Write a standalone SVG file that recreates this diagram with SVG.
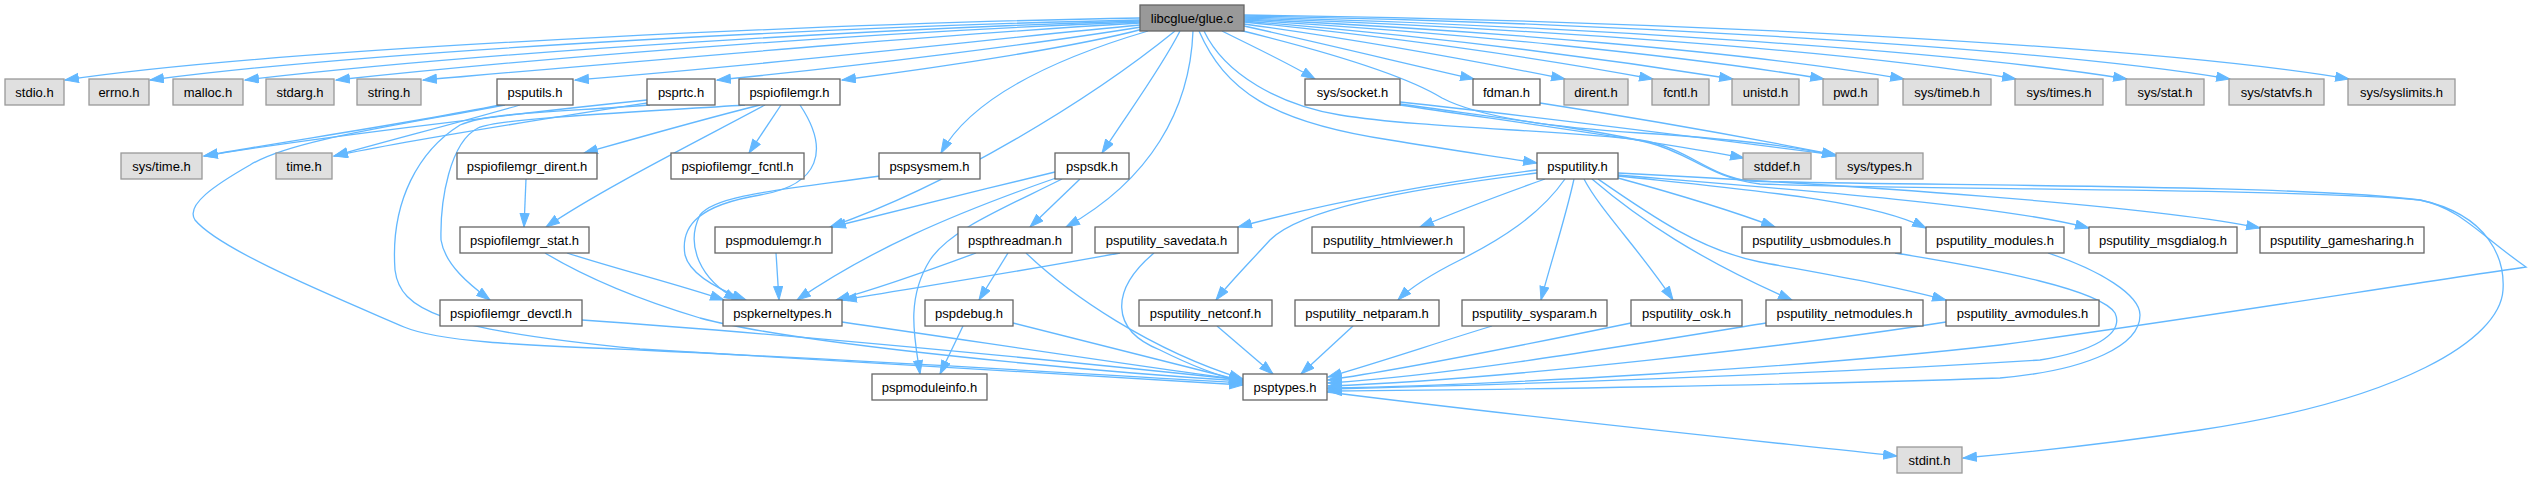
<svg xmlns="http://www.w3.org/2000/svg" width="2532" height="478" viewBox="0 0 2532 478">
<style>
.e{fill:none;stroke:#63b8ff;stroke-width:1.3;marker-end:url(#a)}
.g rect{fill:#e0e0e0;stroke:#999999;stroke-width:1.3}
.w rect{fill:#ffffff;stroke:#666666;stroke-width:1.3}
.r rect{fill:#999999;stroke:#666666;stroke-width:1.3}
text{font-family:"Liberation Sans",Arial,Helvetica,sans-serif;font-size:13px;fill:#000;text-anchor:middle}
</style>
<defs>
<marker id="a" markerUnits="userSpaceOnUse" markerWidth="16" markerHeight="12" refX="14" refY="5" orient="auto">
<path d="M0.5,0.5 L14,5 L0.5,9.5 z" fill="#63b8ff" stroke="#63b8ff" stroke-width="1"/>
</marker>
</defs>
<rect width="2532" height="478" fill="#ffffff"/>
<g id="edges">
<path class="e" d="M1140,18 C900,22 300,45 65,80"/>
<path class="e" d="M1140,20 C900,25 400,47 150,80"/>
<path class="e" d="M1140,21 C900,28 500,50 245,80"/>
<path class="e" d="M1140,22 C900,31 600,52 336,80"/>
<path class="e" d="M1140,23 C950,34 700,56 423,80"/>
<path class="e" d="M1140,25 C1000,38 800,62 575,80"/>
<path class="e" d="M1141,27 C1050,42 860,66 717,80"/>
<path class="e" d="M1143,29 C1080,46 950,66 842,80"/>
<path class="e" d="M1148,31 C1050,60 970,100 941,153"/>
<path class="e" d="M1180,31 C1160,70 1130,110 1102,153"/>
<path class="e" d="M1193,31 C1190,110 1150,180 1066,227"/>
<path class="e" d="M1175,31 C1090,100 950,185 830,227"/>
<path class="e" d="M1199,31 C1225,90 1270,122 1390,140 C1450,150 1500,157 1537,163"/>
<path class="e" d="M1222,31 C1260,50 1290,64 1315,79"/>
<path class="e" d="M1244,26 C1330,45 1420,67 1474,79"/>
<path class="e" d="M1244,24 C1360,40 1480,62 1565,79"/>
<path class="e" d="M1244,22 C1400,38 1550,60 1653,79"/>
<path class="e" d="M1244,21 C1420,35 1600,58 1733,79"/>
<path class="e" d="M1244,20 C1450,32 1680,55 1824,79"/>
<path class="e" d="M1244,19 C1480,30 1750,52 1904,79"/>
<path class="e" d="M1244,18 C1520,28 1850,50 2016,79"/>
<path class="e" d="M1244,17 C1550,25 1950,50 2127,79"/>
<path class="e" d="M1244,16 C1600,22 2050,48 2230,79"/>
<path class="e" d="M1244,15 C1650,20 2150,45 2349,79"/>
<path class="e" d="M1239,30 C1300,45 1400,72 1442,98 C1480,118 1560,128 1640,133 C1720,138 1790,145 1836,156"/>
<path class="e" d="M1204,31 C1225,75 1280,105 1340,115 C1420,128 1560,130 1640,140 C1690,148 1705,175 1750,181 C1900,186 2300,184 2420,200 C2460,208 2480,235 2526,267 C2400,285 2200,318 2000,345 C1800,368 1500,385 1328,388"/>
<path class="e" d="M1400,104 C1500,118 1600,130 1650,143 C1690,153 1710,178 1760,184 C1900,190 2300,188 2420,200 C2490,215 2505,260 2503,290 C2500,340 2400,400 2200,430 C2100,445 2020,453 1963,458"/>
<path class="e" d="M1400,105 C1500,120 1650,140 1744,158"/>
<path class="e" d="M1400,102 C1550,118 1720,140 1836,155"/>
<path class="e" d="M1540,103 C1650,120 1760,140 1836,155"/>
<path class="e" d="M500,105 C400,125 280,142 204,156"/>
<path class="e" d="M520,105 C450,125 390,140 334,156"/>
<path class="e" d="M647,100 C500,115 300,140 204,156"/>
<path class="e" d="M647,103 C550,118 420,138 334,156"/>
<path class="e" d="M505,105 C400,125 290,140 250,165 C215,185 185,205 195,220 C220,250 330,295 404,327 C440,342 520,345 640,350 C900,362 1100,375 1243,383"/>
<path class="e" d="M650,105 C560,112 490,112 460,125 C420,150 390,200 395,270 C400,310 440,330 640,349 C900,365 1100,378 1243,385"/>
<path class="e" d="M781,105 L749,153"/>
<path class="e" d="M760,105 C700,120 630,140 584,153"/>
<path class="e" d="M765,105 C700,140 600,190 546,227"/>
<path class="e" d="M745,105 C640,112 500,118 478,128 C450,142 440,200 441,240 C445,265 470,285 490,300"/>
<path class="e" d="M800,105 C830,150 820,185 760,195 C700,205 680,225 685,255 C690,275 720,290 746,300"/>
<path class="e" d="M880,176 C780,190 715,195 700,215 C685,245 700,280 738,300"/>
<path class="e" d="M526,179 L524,227"/>
<path class="e" d="M567,253 C620,270 680,285 724,300"/>
<path class="e" d="M545,253 C590,280 640,300 700,318 C800,345 1100,372 1243,381"/>
<path class="e" d="M582,320 C800,335 1100,365 1243,380"/>
<path class="e" d="M776,253 L779,300"/>
<path class="e" d="M1055,172 C980,190 900,210 832,227"/>
<path class="e" d="M1056,178 C950,215 870,250 797,300"/>
<path class="e" d="M1080,179 L1030,227"/>
<path class="e" d="M1062,179 C1000,210 950,230 930,260 C905,300 915,340 920,374"/>
<path class="e" d="M976,253 C930,270 880,288 836,300"/>
<path class="e" d="M1008,253 L979,300"/>
<path class="e" d="M1026,253 C1070,295 1150,350 1243,379"/>
<path class="e" d="M1120,253 C1000,275 900,290 843,300"/>
<path class="e" d="M1154,253 C1110,290 1110,330 1160,350 C1190,365 1215,375 1243,382"/>
<path class="e" d="M842,322 C1000,345 1150,368 1243,380"/>
<path class="e" d="M963,326 L940,374"/>
<path class="e" d="M1013,323 C1100,345 1180,365 1243,381"/>
<path class="e" d="M1537,170 C1420,185 1320,205 1238,227"/>
<path class="e" d="M1537,173 C1400,190 1300,210 1270,240 C1250,262 1230,282 1216,300"/>
<path class="e" d="M1545,179 C1500,195 1460,210 1420,227"/>
<path class="e" d="M1565,179 C1540,215 1500,240 1460,260 C1430,275 1410,288 1398,300"/>
<path class="e" d="M1574,179 C1565,220 1550,265 1541,300"/>
<path class="e" d="M1584,179 C1600,210 1640,250 1673,300"/>
<path class="e" d="M1592,179 C1640,220 1700,260 1792,300"/>
<path class="e" d="M1598,179 C1650,215 1700,250 1760,262 C1830,275 1890,285 1946,300"/>
<path class="e" d="M1618,178 C1680,195 1730,210 1775,227"/>
<path class="e" d="M1618,176 C1750,190 1870,200 1926,228"/>
<path class="e" d="M1618,175 C1800,190 2000,205 2089,228"/>
<path class="e" d="M1618,173 C1850,185 2150,205 2260,228"/>
<path class="e" d="M1895,253 C2000,270 2100,290 2115,313 C2125,335 2090,352 2040,360 C1800,375 1500,385 1328,389"/>
<path class="e" d="M2048,253 C2100,270 2140,295 2140,315 C2140,345 2090,370 2000,378 C1800,385 1500,390 1328,391"/>
<path class="e" d="M1217,326 L1273,374"/>
<path class="e" d="M1353,326 L1301,374"/>
<path class="e" d="M1492,326 C1430,345 1380,362 1328,377"/>
<path class="e" d="M1631,323 C1500,350 1400,370 1328,380"/>
<path class="e" d="M1766,323 C1600,350 1450,375 1328,383"/>
<path class="e" d="M1946,322 C1800,345 1500,380 1328,386"/>
<path class="e" d="M1327,392 C1550,420 1750,440 1897,456"/>
</g>
<g id="n_glue" class="r"><rect x="1140" y="5" width="104" height="26"/><text x="1192" y="22.5">libcglue/glue.c</text></g>
<g id="n_stdio" class="g"><rect x="5" y="79" width="59" height="26"/><text x="34.5" y="96.5">stdio.h</text></g>
<g id="n_errno" class="g"><rect x="89" y="79" width="60" height="26"/><text x="119" y="96.5">errno.h</text></g>
<g id="n_malloc" class="g"><rect x="173" y="79" width="70" height="26"/><text x="208" y="96.5">malloc.h</text></g>
<g id="n_stdarg" class="g"><rect x="266" y="79" width="68" height="26"/><text x="300" y="96.5">stdarg.h</text></g>
<g id="n_string" class="g"><rect x="357" y="79" width="64" height="26"/><text x="389" y="96.5">string.h</text></g>
<g id="n_psputils" class="w"><rect x="497" y="79" width="76" height="26"/><text x="535" y="96.5">psputils.h</text></g>
<g id="n_psprtc" class="w"><rect x="647" y="79" width="68" height="26"/><text x="681" y="96.5">psprtc.h</text></g>
<g id="n_pspiofilemgr" class="w"><rect x="739" y="79" width="101" height="26"/><text x="789.5" y="96.5">pspiofilemgr.h</text></g>
<g id="n_syssocket" class="w"><rect x="1305" y="79" width="95" height="26"/><text x="1352.5" y="96.5">sys/socket.h</text></g>
<g id="n_fdman" class="w"><rect x="1473" y="79" width="67" height="26"/><text x="1506.5" y="96.5">fdman.h</text></g>
<g id="n_dirent" class="g"><rect x="1564" y="79" width="64" height="26"/><text x="1596" y="96.5">dirent.h</text></g>
<g id="n_fcntl" class="g"><rect x="1652" y="79" width="57" height="26"/><text x="1680.5" y="96.5">fcntl.h</text></g>
<g id="n_unistd" class="g"><rect x="1732" y="79" width="67" height="26"/><text x="1765.5" y="96.5">unistd.h</text></g>
<g id="n_pwd" class="g"><rect x="1823" y="79" width="55" height="26"/><text x="1850.5" y="96.5">pwd.h</text></g>
<g id="n_systimeb" class="g"><rect x="1903" y="79" width="88" height="26"/><text x="1947" y="96.5">sys/timeb.h</text></g>
<g id="n_systimes" class="g"><rect x="2015" y="79" width="88" height="26"/><text x="2059" y="96.5">sys/times.h</text></g>
<g id="n_sysstat" class="g"><rect x="2126" y="79" width="78" height="26"/><text x="2165" y="96.5">sys/stat.h</text></g>
<g id="n_sysstatvfs" class="g"><rect x="2229" y="79" width="95" height="26"/><text x="2276.5" y="96.5">sys/statvfs.h</text></g>
<g id="n_syssyslimits" class="g"><rect x="2348" y="79" width="107" height="26"/><text x="2401.5" y="96.5">sys/syslimits.h</text></g>
<g id="n_systime" class="g"><rect x="121" y="153" width="81" height="26"/><text x="161.5" y="170.5">sys/time.h</text></g>
<g id="n_time" class="g"><rect x="276" y="153" width="56" height="26"/><text x="304" y="170.5">time.h</text></g>
<g id="n_iodirent" class="w"><rect x="457" y="153" width="140" height="26"/><text x="527" y="170.5">pspiofilemgr_dirent.h</text></g>
<g id="n_iofcntl" class="w"><rect x="671" y="153" width="133" height="26"/><text x="737.5" y="170.5">pspiofilemgr_fcntl.h</text></g>
<g id="n_pspsysmem" class="w"><rect x="879" y="153" width="101" height="26"/><text x="929.5" y="170.5">pspsysmem.h</text></g>
<g id="n_pspsdk" class="w"><rect x="1055" y="153" width="74" height="26"/><text x="1092" y="170.5">pspsdk.h</text></g>
<g id="n_psputility" class="w"><rect x="1537" y="153" width="81" height="26"/><text x="1577.5" y="170.5">psputility.h</text></g>
<g id="n_stddef" class="g"><rect x="1743" y="153" width="68" height="26"/><text x="1777" y="170.5">stddef.h</text></g>
<g id="n_systypes" class="g"><rect x="1836" y="153" width="87" height="26"/><text x="1879.5" y="170.5">sys/types.h</text></g>
<g id="n_iostat" class="w"><rect x="460" y="227" width="129" height="26"/><text x="524.5" y="244.5">pspiofilemgr_stat.h</text></g>
<g id="n_pspmodulemgr" class="w"><rect x="715" y="227" width="117" height="26"/><text x="773.5" y="244.5">pspmodulemgr.h</text></g>
<g id="n_pspthreadman" class="w"><rect x="958" y="227" width="114" height="26"/><text x="1015" y="244.5">pspthreadman.h</text></g>
<g id="n_savedata" class="w"><rect x="1095" y="227" width="143" height="26"/><text x="1166.5" y="244.5">psputility_savedata.h</text></g>
<g id="n_htmlviewer" class="w"><rect x="1312" y="227" width="152" height="26"/><text x="1388" y="244.5">psputility_htmlviewer.h</text></g>
<g id="n_usbmodules" class="w"><rect x="1742" y="227" width="159" height="26"/><text x="1821.5" y="244.5">psputility_usbmodules.h</text></g>
<g id="n_modules" class="w"><rect x="1926" y="227" width="138" height="26"/><text x="1995" y="244.5">psputility_modules.h</text></g>
<g id="n_msgdialog" class="w"><rect x="2089" y="227" width="148" height="26"/><text x="2163" y="244.5">psputility_msgdialog.h</text></g>
<g id="n_gamesharing" class="w"><rect x="2260" y="227" width="164" height="26"/><text x="2342" y="244.5">psputility_gamesharing.h</text></g>
<g id="n_iodevctl" class="w"><rect x="440" y="300" width="142" height="26"/><text x="511" y="317.5">pspiofilemgr_devctl.h</text></g>
<g id="n_pspkerneltypes" class="w"><rect x="723" y="300" width="119" height="26"/><text x="782.5" y="317.5">pspkerneltypes.h</text></g>
<g id="n_pspdebug" class="w"><rect x="925" y="300" width="88" height="26"/><text x="969" y="317.5">pspdebug.h</text></g>
<g id="n_netconf" class="w"><rect x="1139" y="300" width="133" height="26"/><text x="1205.5" y="317.5">psputility_netconf.h</text></g>
<g id="n_netparam" class="w"><rect x="1295" y="300" width="144" height="26"/><text x="1367" y="317.5">psputility_netparam.h</text></g>
<g id="n_sysparam" class="w"><rect x="1462" y="300" width="145" height="26"/><text x="1534.5" y="317.5">psputility_sysparam.h</text></g>
<g id="n_osk" class="w"><rect x="1631" y="300" width="111" height="26"/><text x="1686.5" y="317.5">psputility_osk.h</text></g>
<g id="n_netmodules" class="w"><rect x="1766" y="300" width="157" height="26"/><text x="1844.5" y="317.5">psputility_netmodules.h</text></g>
<g id="n_avmodules" class="w"><rect x="1946" y="300" width="153" height="26"/><text x="2022.5" y="317.5">psputility_avmodules.h</text></g>
<g id="n_pspmoduleinfo" class="w"><rect x="872" y="374" width="115" height="26"/><text x="929.5" y="391.5">pspmoduleinfo.h</text></g>
<g id="n_psptypes" class="w"><rect x="1243" y="374" width="84" height="26"/><text x="1285" y="391.5">psptypes.h</text></g>
<g id="n_stdint" class="g"><rect x="1897" y="447" width="65" height="26"/><text x="1929.5" y="464.5">stdint.h</text></g>
</svg>
